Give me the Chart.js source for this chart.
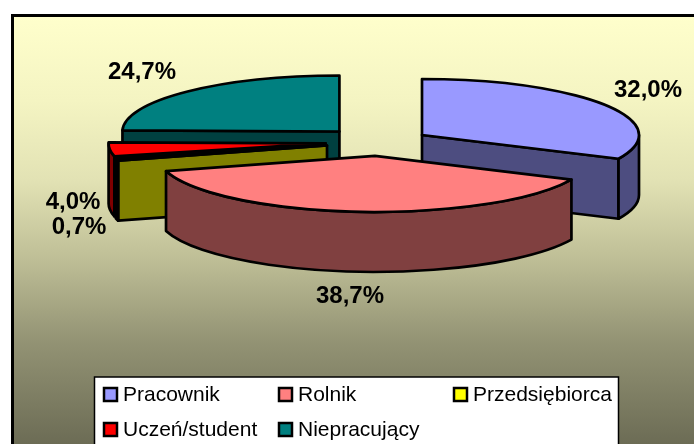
<!DOCTYPE html>
<html>
<head>
<meta charset="utf-8">
<title>Pie</title>
<script src="https://cdn.jsdelivr.net/npm/chart.js@4/dist/chart.umd.min.js"></script>
<style>
  html, body { margin: 0; padding: 0; background: #fff; overflow: hidden; }
  canvas { display: block; }
</style>
</head>
<body>
<canvas id="chart" width="694" height="444"></canvas>
<script>
const categories = ['Pracownik', 'Rolnik', 'Przedsiębiorca', 'Uczeń/student', 'Niepracujący'];
const shares = [32.0, 38.7, 0.7, 4.0, 24.7];
const topColors = ['#9999FF', '#FF8080', '#FFFF00', '#FF0000', '#008080'];
const wallColors = ['#4D4D80', '#804040', '#808000', '#800000', '#004040'];

// how far each slice is pulled out, and the order they get painted (back to front)
const explode = [50.6, 54, 54, 54, 57];
const paintOrder = [4, 3, 2, 0, 1];

const PIE = { cx: 379.3, cy: 142, radius: 217, squash: 0.258, depth: 60 };
const labelSpots = [[648, 90], [350, 296], [79, 227], [73, 202], [142, 72]];
const legendSpots = [[104, 395.5], [279, 395.5], [454, 395.5], [104, 430.5], [279, 430.5]];

function drawSlice(ctx, arc, i) {
  const k = PIE.squash, r = arc.outerRadius, h = PIE.depth;
  const a0 = arc.startAngle, a1 = arc.endAngle;
  const mid = (a0 + a1) / 2;
  const ax = PIE.cx + Math.cos(mid) * explode[i];
  const ay = PIE.cy + Math.sin(mid) * explode[i] * k;
  const px = a => ax + Math.cos(a) * r;
  const py = a => ay + Math.sin(a) * r * k;

  ctx.save();
  ctx.lineWidth = 2.7;
  ctx.lineJoin = 'round';
  ctx.strokeStyle = '#000';
  ctx.fillStyle = wallColors[i];

  const face = a => {
    ctx.beginPath();
    ctx.moveTo(ax, ay);
    ctx.lineTo(px(a), py(a));
    ctx.lineTo(px(a), py(a) + h);
    ctx.lineTo(ax, ay + h);
    ctx.closePath();
    ctx.fill();
    ctx.stroke();
  };
  if (Math.cos(a0) < 0) face(a0);
  if (Math.cos(a1) > 0) face(a1);

  // rim, only the part of the arc that faces the viewer
  const from = Math.max(a0, 0), to = Math.min(a1, Math.PI);
  if (to > from) {
    ctx.beginPath();
    ctx.ellipse(ax, ay, r, r * k, 0, from, to);
    ctx.ellipse(ax, ay + h, r, r * k, 0, to, from, true);
    ctx.closePath();
    ctx.fill();
    ctx.stroke();
  }

  // the top is the library's own arc, squashed
  ctx.save();
  ctx.translate(ax, ay);
  ctx.scale(1, k);
  ctx.translate(-arc.x, -arc.y);
  arc.draw(ctx);
  ctx.restore();

  ctx.beginPath();
  ctx.moveTo(ax, ay);
  ctx.ellipse(ax, ay, r, r * k, 0, a0, a1);
  ctx.closePath();
  ctx.stroke();
  ctx.restore();
}

const pie3d = {
  id: 'pie3d',
  beforeDraw(chart) {
    const ctx = chart.ctx;
    const g = ctx.createLinearGradient(0, 15, 0, 444);
    g.addColorStop(0, '#FFFFCC');
    g.addColorStop(0.2, '#F4F4C2');
    g.addColorStop(0.385, '#E2E2B4');
    g.addColorStop(0.57, '#BEBE96');
    g.addColorStop(0.76, '#939374');
    g.addColorStop(1, '#6C6C55');
    ctx.save();
    ctx.fillStyle = g;
    ctx.fillRect(12, 15, 690, 440);
    // frame runs past the right and bottom of the picture
    ctx.strokeStyle = '#000';
    ctx.lineWidth = 3;
    ctx.strokeRect(12.5, 15.5, 700, 450);
    ctx.restore();
  },
  beforeDatasetDraw(chart, args) {
    const arcs = args.meta.data;
    paintOrder.forEach(i => drawSlice(chart.ctx, arcs[i], i));
    return false;
  },
  afterDraw(chart) {
    const ctx = chart.ctx;
    ctx.save();
    ctx.fillStyle = '#000';
    ctx.textAlign = 'center';
    ctx.textBaseline = 'middle';
    ctx.font = 'bold 24px "Liberation Sans", Arial, sans-serif';
    shares.forEach((v, i) => {
      ctx.fillText(v.toFixed(1).replace('.', ',') + '%', labelSpots[i][0], labelSpots[i][1]);
    });

    // legend box runs off the bottom of the picture
    ctx.fillStyle = '#fff';
    ctx.strokeStyle = '#000';
    ctx.lineWidth = 1.5;
    ctx.fillRect(94.5, 377, 524, 80);
    ctx.strokeRect(94.5, 377, 524, 80);
    ctx.textAlign = 'left';
    ctx.font = '21px "Liberation Sans", Arial, sans-serif';
    categories.forEach((name, i) => {
      const [x, y] = legendSpots[i];
      ctx.fillStyle = topColors[i];
      ctx.lineWidth = 2.5;
      ctx.fillRect(x, y - 7.5, 13, 13);
      ctx.strokeRect(x, y - 7.5, 13, 13);
      ctx.fillStyle = '#000';
      ctx.fillText(name, x + 19, y);
    });
    ctx.restore();
  }
};

new Chart(document.getElementById('chart'), {
  type: 'pie',
  data: {
    labels: categories,
    datasets: [{
      data: shares,
      backgroundColor: topColors,
      borderWidth: 0,
      radius: PIE.radius
    }]
  },
  options: {
    responsive: false,
    animation: false,
    plugins: {
      legend: { display: false },
      tooltip: { enabled: false }
    }
  },
  plugins: [pie3d]
});
</script>
</body>
</html>
